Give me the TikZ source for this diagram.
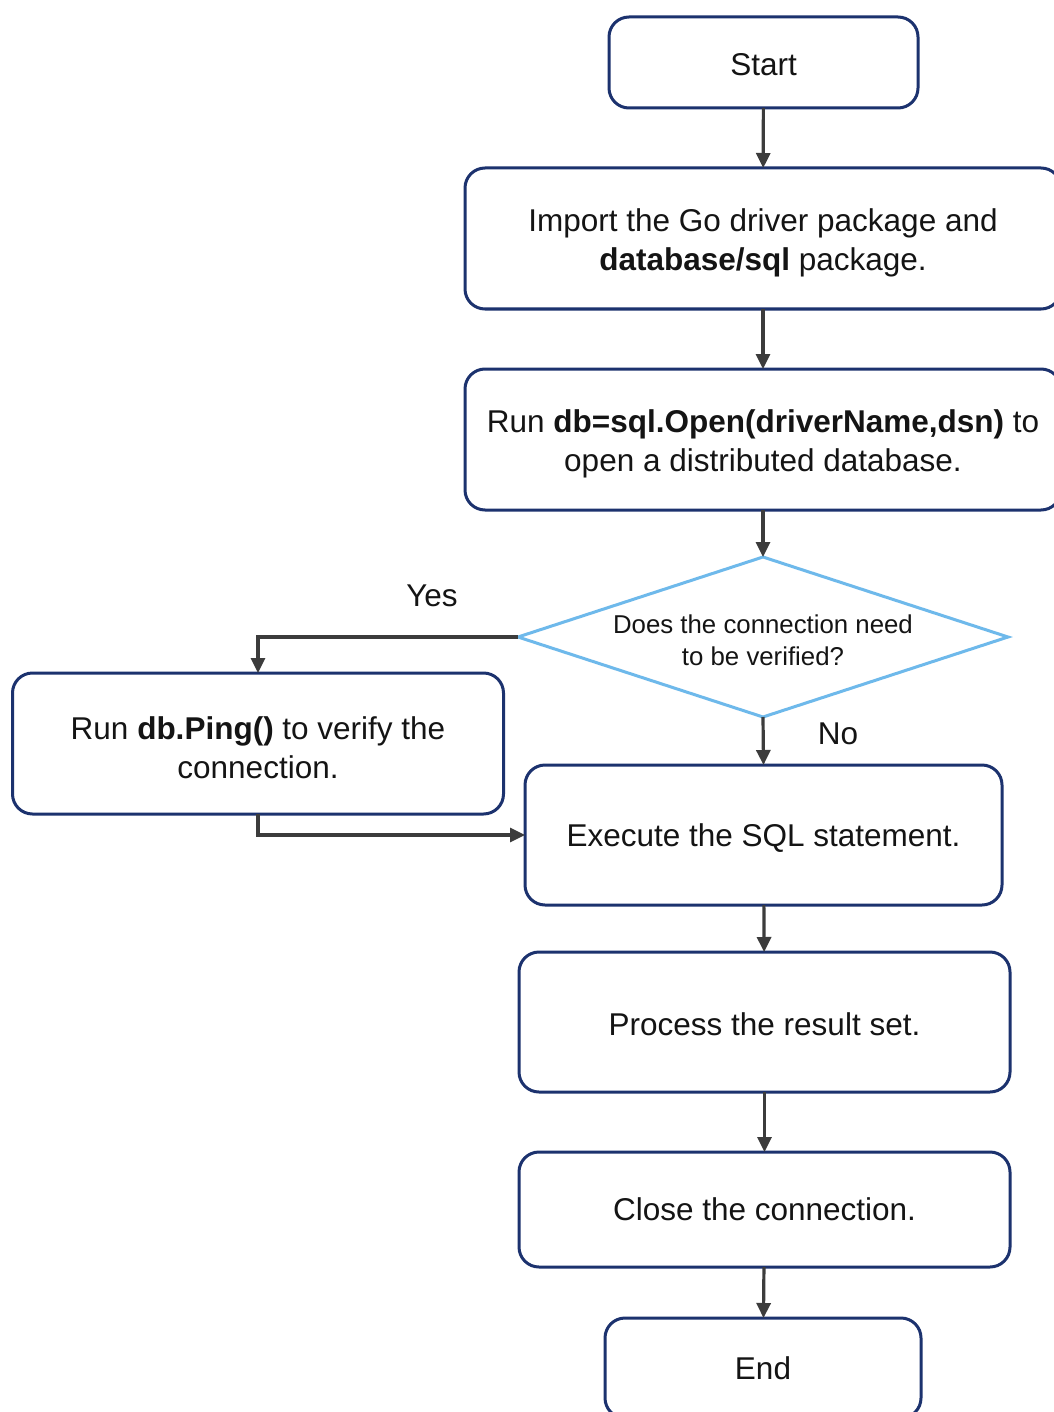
\documentclass[tikz,border=0pt]{standalone}
\usepackage{fontspec}
\setmainfont{Liberation Sans}
\usetikzlibrary{shapes.geometric,arrows.meta}
\definecolor{boxline}{RGB}{28,50,110}
\definecolor{arrline}{RGB}{60,60,60}
\definecolor{diamline}{RGB}{110,185,235}
\definecolor{txt}{RGB}{20,20,20}
\newcommand{\boxstrut}{\rule{0pt}{31pt}}
\newcommand{\onestrut}{\rule{0pt}{27pt}}
\newcommand{\diastrut}{\rule{0pt}{25pt}}
\begin{document}
\begin{tikzpicture}[x=1pt,y=-1pt,
  box/.style={draw=boxline, line width=3pt, rounded corners=20pt, fill=white,
    inner sep=0pt, outer sep=0pt, align=center, text=txt,
    font=\fontsize{31.5}{39}\selectfont},
  decision/.style={shape=diamond, draw=diamline, line width=3pt, fill=white,
    aspect=3.06, inner sep=0pt, outer sep=0pt, minimum width=490pt, minimum height=160pt,
    align=center, text=txt, font=\fontsize{25.8}{32}\selectfont},
  lbl/.style={text=txt, font=\fontsize{31.5}{39}\selectfont, inner sep=0pt},
  arr/.style={draw=arrline, line width=3.2pt, -{Triangle[length=15pt,width=14pt]}}
]
\useasboundingbox (0,0) rectangle (1053,1412);
\fill[white] (0,0) rectangle (1053,1412);

\node[box, minimum width=309pt, minimum height=91pt] (start) at (763.5,62.5) {\onestrut Start};
\node[box, minimum width=596pt, minimum height=141pt] (imp) at (763,238.5)
  {\boxstrut Import the Go driver package and\\\textbf{database/sql} package.};
\node[box, minimum width=596pt, minimum height=141pt] (open) at (763,439.5)
  {\boxstrut Run \textbf{db=sql.Open(driverName,dsn)} to\\open a distributed database.};
\node[decision] (dec) at (763,637) {\diastrut Does the connection need\\to be verified?};
\node[box, minimum width=491pt, minimum height=141pt] (ping) at (258,743.5)
  {\boxstrut Run \textbf{db.Ping()} to verify the\\connection.};
\node[box, minimum width=477pt, minimum height=140pt] (exec) at (763.5,835)
  {\rule{0pt}{29pt}Execute the SQL statement.};
\node[box, minimum width=491pt, minimum height=140pt] (proc) at (764.5,1022)
  {\onestrut Process the result set.};
\node[box, minimum width=491pt, minimum height=115pt] (close) at (764.5,1209.5)
  {Close the connection.};
\node[box, minimum width=316pt, minimum height=100pt] (end) at (763,1368) {End};

\node[lbl] (yes) at (432,596) {Yes};
\node[lbl] (no) at (838,734) {No};

\draw[arr] (start) -- (imp);
\draw[arr] (imp) -- (open);
\draw[arr] (open) -- (dec);
\draw[arr] (dec.west) -| (ping.north);
\draw[arr] (dec.south) -- (exec.north);
\draw[arr] (ping.south) |- (exec.west);
\draw[arr] (exec) -- (proc);
\draw[arr] (proc) -- (close);
\draw[arr] (close) -- (end);
\end{tikzpicture}
\end{document}
